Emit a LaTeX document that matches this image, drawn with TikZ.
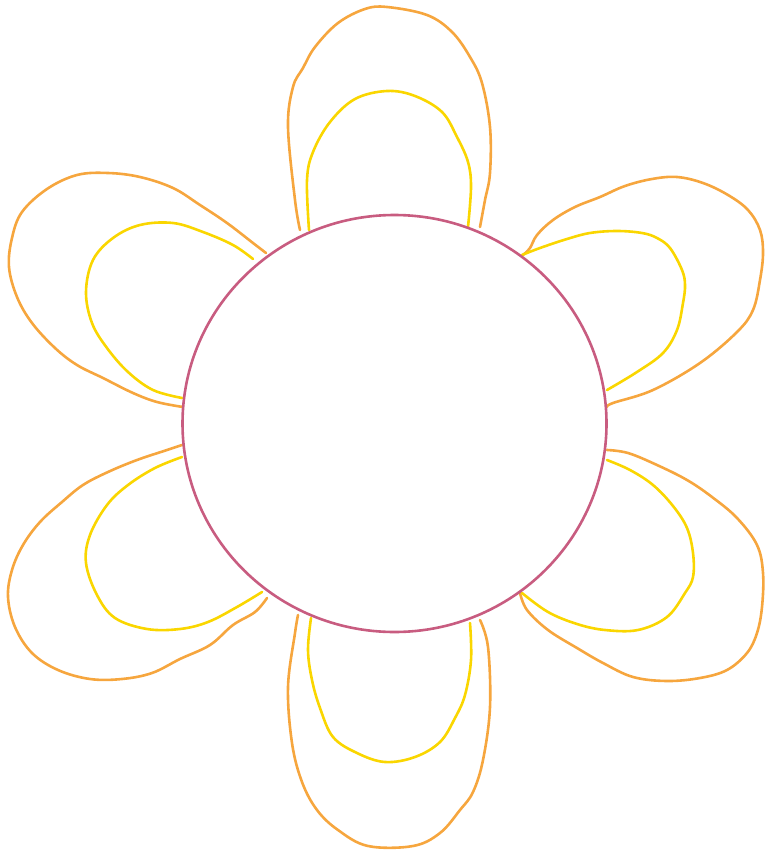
\documentclass[tikz,border=0pt]{standalone}
\definecolor{petalout}{RGB}{246,166,62}
\definecolor{petalin}{RGB}{250,214,0}
\definecolor{disk}{RGB}{200,92,128}
\tikzset{
  outerpetal/.style={draw=petalout, line width=2.6pt, line join=round, line cap=round},
  innerpetal/.style={draw=petalin, line width=2.6pt, line join=round, line cap=round},
  diskline/.style={draw=disk, line width=2.6pt}
}
\begin{document}
\begin{tikzpicture}[x=1pt,y=-1pt]
\useasboundingbox (0,0) rectangle (764,853);
% top petal
\draw[outerpetal] plot[smooth, tension=0.6] coordinates {(300,230) (295,200) (288,127) (293,87) (303,68) (315,47) (338,23) (365,9) (387,7) (427,15) (452,32) (470,57) (482,83) (490,127) (490,173) (485,200) (480,227)};
\draw[innerpetal] plot[smooth, tension=0.6] coordinates {(309,230) (307,180) (313,152) (330,122) (355,99) (387,91) (415,96) (442,112) (457,137) (468,162) (471,187) (468,227)};
% bottom petal
\draw[outerpetal] plot[smooth, tension=0.6] coordinates {(298,615) (295,633) (288,687) (292,743) (302,782) (317,810) (338,830) (368,846) (413,846) (440,833) (460,810) (473,792) (483,760) (490,707) (488,647) (480,620)};
\draw[innerpetal] plot[smooth, tension=0.6] coordinates {(311,618) (308,650) (312,680) (320,708) (333,737) (357,753) (385,762) (415,757) (440,742) (455,718) (465,695) (471,660) (470,623)};
% upper left petal
\draw[outerpetal] plot[smooth, tension=0.6] coordinates {(266,253) (253,243) (227,223) (200,205) (173,188) (140,177) (108,173) (77,175) (47,189) (22,212) (12,238) (9,267) (17,297) (32,323) (55,348) (77,365) (103,378) (133,393) (157,402) (183,407)};
\draw[innerpetal] plot[smooth, tension=0.6] coordinates {(253,259) (233,245) (203,232) (173,223) (140,225) (113,238) (93,260) (86,292) (92,323) (107,348) (128,372) (153,390) (182,398)};
% upper right petal
\draw[outerpetal] plot[smooth, tension=0.6] coordinates {(607,407) (613,403) (653,390) (700,363) (737,332) (753,310) (760,280) (763,253) (760,230) (748,210) (728,195) (703,183) (677,177) (652,179) (625,186) (600,197) (575,207) (553,220) (537,235) (530,248) (523,255)};
\draw[innerpetal] plot[smooth, tension=0.6] coordinates {(522,255) (540,248) (567,239) (590,233) (617,231) (642,233) (657,238) (670,248) (682,270) (685,285) (683,303) (677,330) (663,353) (637,372) (607,390)};
% lower left petal
\draw[outerpetal] plot[smooth, tension=0.6] coordinates {(182,445) (167,450) (137,460) (108,472) (83,485) (62,502) (40,522) (23,545) (12,570) (8,597) (15,627) (32,653) (58,670) (90,679) (122,679) (152,673) (180,659) (210,645) (233,625) (255,612) (267,598)};
\draw[innerpetal] plot[smooth, tension=0.6] coordinates {(182,457) (155,468) (128,485) (107,505) (90,535) (86,563) (97,595) (115,618) (147,629) (180,629) (208,622) (237,607) (262,592)};
% lower right petal
\draw[outerpetal] plot[smooth, tension=0.6] coordinates {(607,450) (628,453) (657,465) (687,480) (712,497) (737,518) (757,545) (763,573) (762,607) (757,633) (747,653) (727,670) (700,678) (667,681) (633,677) (603,663) (577,648) (548,630) (527,610) (520,593)};
\draw[innerpetal] plot[smooth, tension=0.6] coordinates {(607,460) (630,470) (653,485) (673,506) (687,528) (693,553) (693,577) (685,593) (667,617) (638,630) (605,630) (577,624) (548,612) (522,593)};
% centre disk
\draw[diskline] (394.5pt,-423.5pt) ellipse [x radius=212pt, y radius=208.5pt];
\end{tikzpicture}
\end{document}
